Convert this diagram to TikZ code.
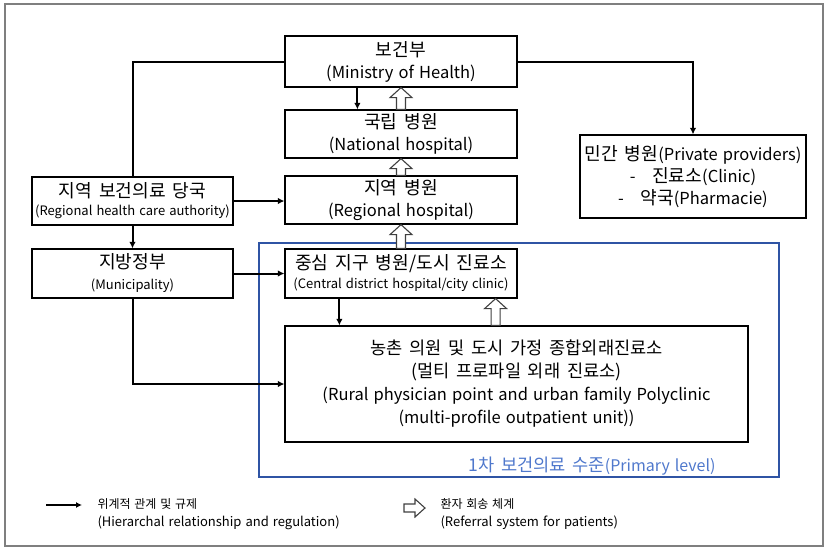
\documentclass[tikz,border=0pt]{standalone}
\usepackage{fontspec}
\setmainfont{Noto Sans CJK KR}[WordSpace=1.4]
\newfontfamily\kr{Noto Sans CJK KR}[Scale=1.1, WordSpace=1.7]
\usetikzlibrary{arrows.meta,calc}
\definecolor{framegray}{HTML}{7F7F7F}
\definecolor{primblue}{HTML}{2F54A4}
\definecolor{labelblue}{HTML}{4F78CC}
\tikzset{
  box/.style={draw=black, line width=1.2pt, fill=white, align=center, inner sep=0pt},
  big/.style={font=\fontsize{16.5}{22}\selectfont},
  rel/.style={line width=2pt, -{Latex[length=6.5pt,width=6.5pt]}},
  relplain/.style={line width=2pt},
  referral/.style={draw=black!75, line width=1.1pt, fill=white, line join=miter},
}
% upward hollow arrow: tail at #1, tip at #2 (same x)
\newcommand\hollowup[2]{%
  \path[referral] let \p1=(#1), \p2=(#2) in
    (\x1-4.5pt,\y1) -- (\x1-4.5pt,\y2-10pt) -- (\x1-11pt,\y2-10pt) -- (\x1,\y2)
    -- (\x1+11pt,\y2-10pt) -- (\x1+4.5pt,\y2-10pt) -- (\x1+4.5pt,\y1) -- cycle;}
% rightward hollow arrow: tail at #1, tip at #2 (same y)
\newcommand\hollowright[2]{%
  \path[referral] let \p1=(#1), \p2=(#2) in
    (\x1,\y1+4pt) -- (\x2-10pt,\y1+4pt) -- (\x2-10pt,\y1+9pt) -- (\x2,\y1)
    -- (\x2-10pt,\y1-9pt) -- (\x2-10pt,\y1-4pt) -- (\x1,\y1-4pt) -- cycle;}
\begin{document}
\begin{tikzpicture}[x=1pt,y=-1pt]
\useasboundingbox (0,0) rectangle (827,549);
\draw[framegray, line width=1.6pt] (5,4) rectangle (823,546);

% primary level frame
\draw[primblue, line width=1.1pt] (259,243) rectangle (779,477);
\node[anchor=east, text=labelblue, font=\fontsize{16}{18}\selectfont] (prim) at (719,466)
  {{\kr 1차 보건의료 수준}(Primary level)};

% boxes
\node[box, big, minimum width=232pt, minimum height=51pt] (min) at (401,61.5)
  {{\kr 보건부}\\(Ministry of Health)};
\node[box, big, minimum width=232pt, minimum height=48pt] (nat) at (401,134)
  {{\kr 국립 병원}\\(National hospital)};
\node[box, big, minimum width=232pt, minimum height=48pt] (reg) at (401,200)
  {{\kr 지역 병원}\\(Regional hospital)};
\node[box, minimum width=232pt, minimum height=49pt, font=\fontsize{16.5}{19}\selectfont] (cen) at (401,273.5)
  {{\kr 중심 지구 병원/도시 진료소}\\{\fontsize{13}{14}\selectfont(Central district hospital/city clinic)}};
\node[box, minimum width=463pt, minimum height=116pt, font=\fontsize{16.5}{23}\selectfont] (rur) at (516.5,384)
  {{\kr\fontsize{16}{23}\selectfont 농촌 의원 및 도시 가정 종합외래진료소}\\{\kr\fontsize{16}{23}\selectfont (멀티 프로파일 외래 진료소)}\\(Rural physician point and urban family Polyclinic\\(multi-profile outpatient unit))};
\node[box, minimum width=201pt, minimum height=48pt, font=\fontsize{16.5}{18}\selectfont] (rha) at (132.5,201)
  {{\kr 지역 보건의료 당국}\\{\fontsize{13}{14}\selectfont(Regional health care authority)}};
\node[box, minimum width=201pt, minimum height=49pt, font=\fontsize{16.5}{21}\selectfont] (mun) at (132.5,273.5)
  {{\kr 지방정부}\\{\fontsize{13}{14}\selectfont(Municipality)}};
\node[box, big, minimum width=226pt, minimum height=83pt] (prv) at (693,176.5)
  {{\kr 민간 병원}(Private providers)\\-\quad {\kr 진료소}(Clinic)\\-\quad {\kr 약국}(Pharmacie)};

% hierarchy and regulation
\draw[relplain] (min.west) -| (rha.north);
\draw[rel] (min.east) -| (prv.north);
\draw[rel] (rha.south) -- (mun.north);
\draw[rel] (rha.east) -- (rha.east -| reg.west);
\draw[rel] (mun.east) -- (mun.east -| cen.west);
\draw[rel] (mun.south) |- (rur.west);
\draw[rel] ([xshift=73pt]min.south west) -- ([xshift=73pt]min.south west |- nat.north);
\draw[rel] ([xshift=55pt]cen.south west) -- ([xshift=55pt]cen.south west |- rur.north);

% patient referral
\hollowup{nat.north}{min.south}
\hollowup{reg.north}{nat.south}
\hollowup{cen.north}{reg.south}
\hollowup{[xshift=-22pt]cen.south east |- rur.north}{[xshift=-22pt]cen.south east}

% legend
\coordinate (l1a) at (46,505);
\coordinate (l1b) at (82,505);
\draw[line width=2.4pt, -{Latex[length=6pt,width=6pt]}] (l1a) -- (l1b);
\node[anchor=west, align=left, font=\fontsize{13}{18}\selectfont] (leg1) at (94,514)
  {{\fontsize{12}{14}\selectfont 위계적 관계 및 규제}\\(Hierarchal relationship and regulation)};
\coordinate (l2a) at (404,508);
\coordinate (l2b) at (425,508);
\hollowright{l2a}{l2b}
\node[anchor=west, align=left, font=\fontsize{13}{18}\selectfont] (leg2) at (437,514)
  {{\fontsize{12}{14}\selectfont 환자 회송 체계}\\(Referral system for patients)};
\end{tikzpicture}
\end{document}
